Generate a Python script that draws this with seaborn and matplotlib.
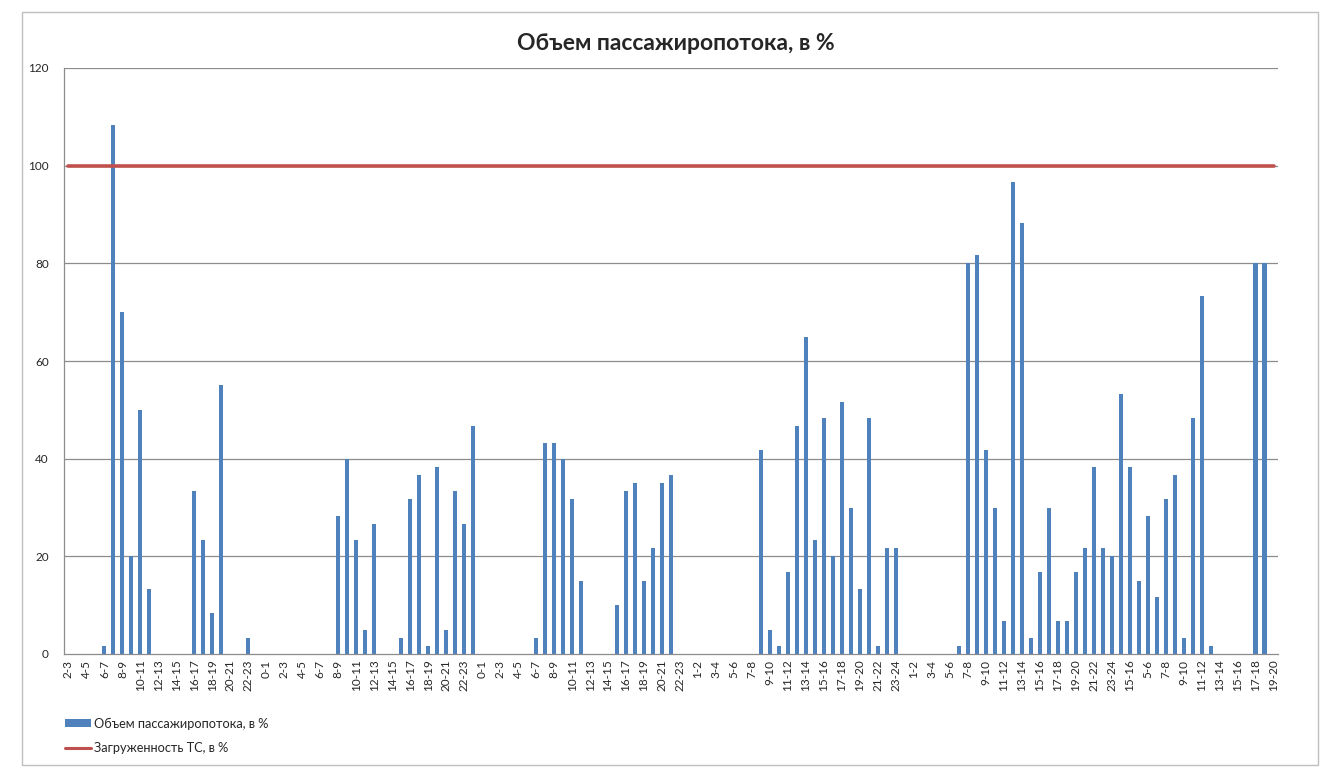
#!/usr/bin/env python3
"""
Passenger flow volume chart (Excel-style) redrawn with seaborn.
Bars: passenger flow per hour slot, line: vehicle load level.
"""

import matplotlib
matplotlib.use('Agg')
import matplotlib.pyplot as plt
from matplotlib.patches import Patch, Rectangle
from matplotlib.lines import Line2D
import seaborn as sns

# Hour slots, day by day (as they come in the source table)
DAY1_SLOTS = ["2-3", "3-4", "4-5", "5-6", "6-7", "7-8", "8-9", "9-10", "10-11", "11-12",
              "12-13", "13-14", "14-15", "15-16", "16-17", "17-18", "18-19", "19-20",
              "20-21", "21-22", "22-23", "23-24"]
DAY2_SLOTS = ["0-1", "1-2", "2-3", "3-4", "4-5", "5-6", "6-7", "7-8", "8-9", "9-10", "10-11",
              "11-12", "12-13", "13-14", "14-15", "15-16", "16-17", "17-18", "18-19", "19-20",
              "20-21", "21-22", "22-23", "23-24"]
DAY3_SLOTS = ["0-1", "1-2", "2-3", "3-4", "4-5", "5-6", "6-7", "7-8", "8-9", "9-10", "10-11",
              "11-12", "12-13", "13-14", "14-15", "15-16", "16-17", "17-18", "18-19", "19-20",
              "20-21", "21-22", "22-23", "23-24"]
DAY4_SLOTS = ["1-2", "2-3", "3-4", "4-5", "5-6", "6-7", "7-8", "8-9", "9-10", "10-11",
              "11-12", "12-13", "13-14", "14-15", "15-16", "16-17", "17-18", "18-19", "19-20",
              "20-21", "21-22", "22-23", "23-24"]
DAY5_SLOTS = ["0-1", "1-2", "2-3", "3-4", "4-5", "5-6", "6-7", "7-8", "8-9", "9-10", "10-11",
              "11-12", "12-13", "13-14", "14-15", "15-16", "16-17", "17-18", "18-19", "19-20",
              "20-21", "21-22", "22-23", "23-24"]
DAY6_SLOTS = ["14-15", "15-16", "16-17"]
DAY7_SLOTS = ["5-6", "6-7", "7-8", "8-9", "9-10", "10-11", "11-12", "12-13", "13-14",
              "14-15", "15-16", "16-17", "17-18", "18-19", "19-20"]

# Passenger flow volume, %
DAY1_FLOW = [0, 0, 0, 0, 1.7, 108.3, 70, 20, 50, 13.3, 0, 0, 0, 0, 33.3, 23.3, 8.3, 55,
             0, 0, 3.3, 0]
DAY2_FLOW = [0, 0, 0, 0, 0, 0, 0, 0, 28.3, 40, 23.3, 5, 26.7, 0, 0, 3.3, 31.7, 36.7, 1.7,
             38.3, 5, 33.3, 26.7, 46.7]
DAY3_FLOW = [0, 0, 0, 0, 0, 0, 3.3, 43.3, 43.3, 40, 31.7, 15, 0, 0, 0, 10, 33.3, 35, 15,
             21.7, 35, 36.7, 0, 0]
DAY4_FLOW = [0, 0, 0, 0, 0, 0, 0, 41.7, 5, 1.7, 16.7, 46.7, 65, 23.3, 48.3, 20, 51.7, 30,
             13.3, 48.3, 1.7, 21.7, 21.7]
DAY5_FLOW = [0, 0, 0, 0, 0, 0, 1.7, 80, 81.7, 41.7, 30, 6.7, 96.7, 88.3, 3.3, 16.7, 30,
             6.7, 6.7, 16.7, 21.7, 38.3, 21.7, 20]
DAY6_FLOW = [53.3, 38.3, 15]
DAY7_FLOW = [28.3, 11.7, 31.7, 36.7, 3.3, 48.3, 73.3, 1.7, 0, 0, 0, 0, 80, 80, 0]

# Vehicle load level, % (flat 100 across every slot)
LOAD_LEVEL = 100

TITLE = "Объем пассажиропотока, в %"
FLOW_LABEL = "Объем пассажиропотока, в %"
LOAD_LABEL = "Загруженность ТС, в %"

BAR_COLOR = "#4F81BD"
LINE_COLOR = "#C0504D"
GRID_COLOR = "#8C8C8C"


def main():
    slots = (DAY1_SLOTS + DAY2_SLOTS + DAY3_SLOTS + DAY4_SLOTS + DAY5_SLOTS
             + DAY6_SLOTS + DAY7_SLOTS)
    flow = (DAY1_FLOW + DAY2_FLOW + DAY3_FLOW + DAY4_FLOW + DAY5_FLOW
            + DAY6_FLOW + DAY7_FLOW)
    pos = list(range(len(slots)))
    load = [LOAD_LEVEL for _ in slots]

    sns.set_style("white")
    plt.rcParams['font.family'] = ['Lato', 'DejaVu Sans']

    fig = plt.figure(figsize=(13.2, 7.68), dpi=100)
    ax = fig.add_axes([64 / 1320, 1 - 654 / 768, (1278 - 64) / 1320, (654 - 68) / 768])

    # light chart-area frame like the Excel object border
    fig.patches.append(Rectangle((22 / 1320, 3 / 768), 1296 / 1320, 753 / 768,
                                 transform=fig.transFigure, fill=False,
                                 edgecolor="#BFBFBF", lw=1.0))

    ax.set_axisbelow(True)
    for y in range(20, 121, 20):
        ax.axhline(y, color=GRID_COLOR, lw=0.9, zorder=0)

    sns.barplot(x=pos, y=flow, color=BAR_COLOR, width=0.45, saturation=1,
                edgecolor="none", ax=ax, zorder=2)
    sns.lineplot(x=pos, y=load, color=LINE_COLOR, lw=2.6, ax=ax, zorder=3)

    ax.set_xlim(-0.5, len(slots) - 0.5)
    ax.set_ylim(0, 120)
    ax.set_yticks(range(0, 121, 20))
    ax.set_yticklabels([str(v) for v in range(0, 121, 20)], fontsize=8.5)
    ax.set_xticks(pos[::2])
    ax.set_xticklabels(slots[::2], rotation=90, fontsize=8.5)
    ax.tick_params(axis='y', length=4, color=GRID_COLOR, pad=7)
    ax.tick_params(axis='x', length=0, pad=4)

    for side in ["top", "right"]:
        ax.spines[side].set_visible(False)
    for side in ["left", "bottom"]:
        ax.spines[side].set_color(GRID_COLOR)
        ax.spines[side].set_linewidth(0.9)

    ax.set_xlabel("")
    ax.set_ylabel("")
    fig.text(676 / 1320, 1 - 43 / 768, TITLE, ha="center", va="center",
             fontsize=16.5, fontweight="bold")

    handles = [Patch(facecolor=BAR_COLOR, edgecolor="none"),
               Line2D([0], [0], color=LINE_COLOR, lw=2.2)]
    fig.legend(handles, [FLOW_LABEL, LOAD_LABEL], loc="upper left",
               bbox_to_anchor=(53 / 1320, 1 - 706 / 768), frameon=False,
               fontsize=9.2, handlelength=2.1, handleheight=0.5,
               handletextpad=0.2, labelspacing=1.0)

    fig.savefig("out.png", dpi=100)
    plt.close(fig)


if __name__ == "__main__":
    main()
